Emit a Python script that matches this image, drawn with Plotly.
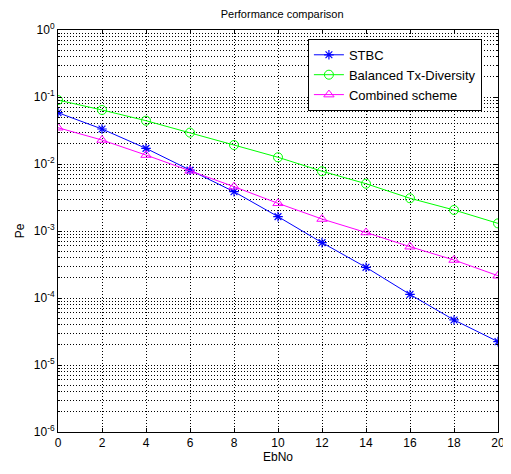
import plotly.graph_objects as go

ebno = [0, 2, 4, 6, 8, 10, 12, 14, 16, 18, 20]
stbc = [0.0583, 0.0333, 0.0171, 0.0081, 0.00386, 0.00164, 0.00067, 0.000287, 0.000113, 0.000047, 0.0000223]
balanced = [0.090, 0.064, 0.0443, 0.0294, 0.0192, 0.0126, 0.0078, 0.00508, 0.00308, 0.00206, 0.0013]
combined = [0.0348, 0.0228, 0.0136, 0.0079, 0.00459, 0.00259, 0.00151, 0.00095, 0.000583, 0.000369, 0.000215]

x_ticks = [0, 2, 4, 6, 8, 10, 12, 14, 16, 18, 20]
y_tickvals = [1e-6, 1e-5, 1e-4, 1e-3, 1e-2, 1e-1, 1]
y_ticktext = ["10<sup>-6</sup>", "10<sup>-5</sup>", "10<sup>-4</sup>", "10<sup>-3</sup>",
              "10<sup>-2</sup>", "10<sup>-1</sup>", "10<sup>0</sup>"]

font = "Liberation Sans, Arial, sans-serif"
dotdash = "1px,2px"

fig = go.Figure()
fig.add_trace(go.Scatter(x=ebno, y=stbc, name="STBC", mode="lines+markers",
                         line=dict(color="#0000ff", width=1),
                         marker=dict(symbol="asterisk-open", size=8, color="#0000ff",
                                     line=dict(color="#0000ff", width=1.2))))
fig.add_trace(go.Scatter(x=ebno, y=balanced, name="Balanced Tx-Diversity", mode="lines+markers",
                         line=dict(color="#00ff00", width=1),
                         marker=dict(symbol="circle-open", size=9, color="#00ff00",
                                     line=dict(color="#00ff00", width=1))))
fig.add_trace(go.Scatter(x=ebno, y=combined, name="Combined scheme", mode="lines+markers",
                         line=dict(color="#ff00ff", width=1),
                         marker=dict(symbol="triangle-up-open", size=9, color="#ff00ff",
                                     line=dict(color="#ff00ff", width=1))))

fig.update_layout(
    template="none",
    width=503, height=458,
    margin=dict(l=50, r=13, t=22, b=34),
    paper_bgcolor="white", plot_bgcolor="white",
    font=dict(family=font, size=12, color="black"),
    title=dict(text="Performance comparison", x=0.545, xanchor="center", y=0.987, yanchor="middle",
               font=dict(size=11, family=font, color="black")),
    showlegend=True,
    legend=dict(x=0.568, y=0.978, xanchor="left", yanchor="top",
                bgcolor="white", bordercolor="black", borderwidth=1,
                font=dict(size=13, family=font), tracegroupgap=0,
                entrywidth=140, entrywidthmode="pixels"),
)
fig.update_xaxes(
    range=[0, 20], tickvals=x_ticks,
    showline=True, linecolor="black", linewidth=1, mirror="ticks",
    ticks="inside", ticklen=4, tickcolor="black",
    showgrid=True, gridcolor="black", griddash=dotdash, gridwidth=1,
    zeroline=False,
    title=dict(text="EbNo", font=dict(size=12, family=font), standoff=2),
)
fig.update_yaxes(
    type="log", range=[-6, 0],
    tickvals=y_tickvals, ticktext=y_ticktext,
    showline=True, linecolor="black", linewidth=1, mirror="ticks",
    ticks="inside", ticklen=4, tickcolor="black",
    showgrid=True, gridcolor="black", griddash=dotdash, gridwidth=1,
    minor=dict(showgrid=True, gridcolor="black", griddash=dotdash, gridwidth=1,
               ticks="inside", ticklen=2, tickcolor="black", dtick="D1"),
    zeroline=False,
    automargin=False,
    title=dict(text="Pe", font=dict(size=12, family=font), standoff=6),
)

fig.write_html("out.html")
